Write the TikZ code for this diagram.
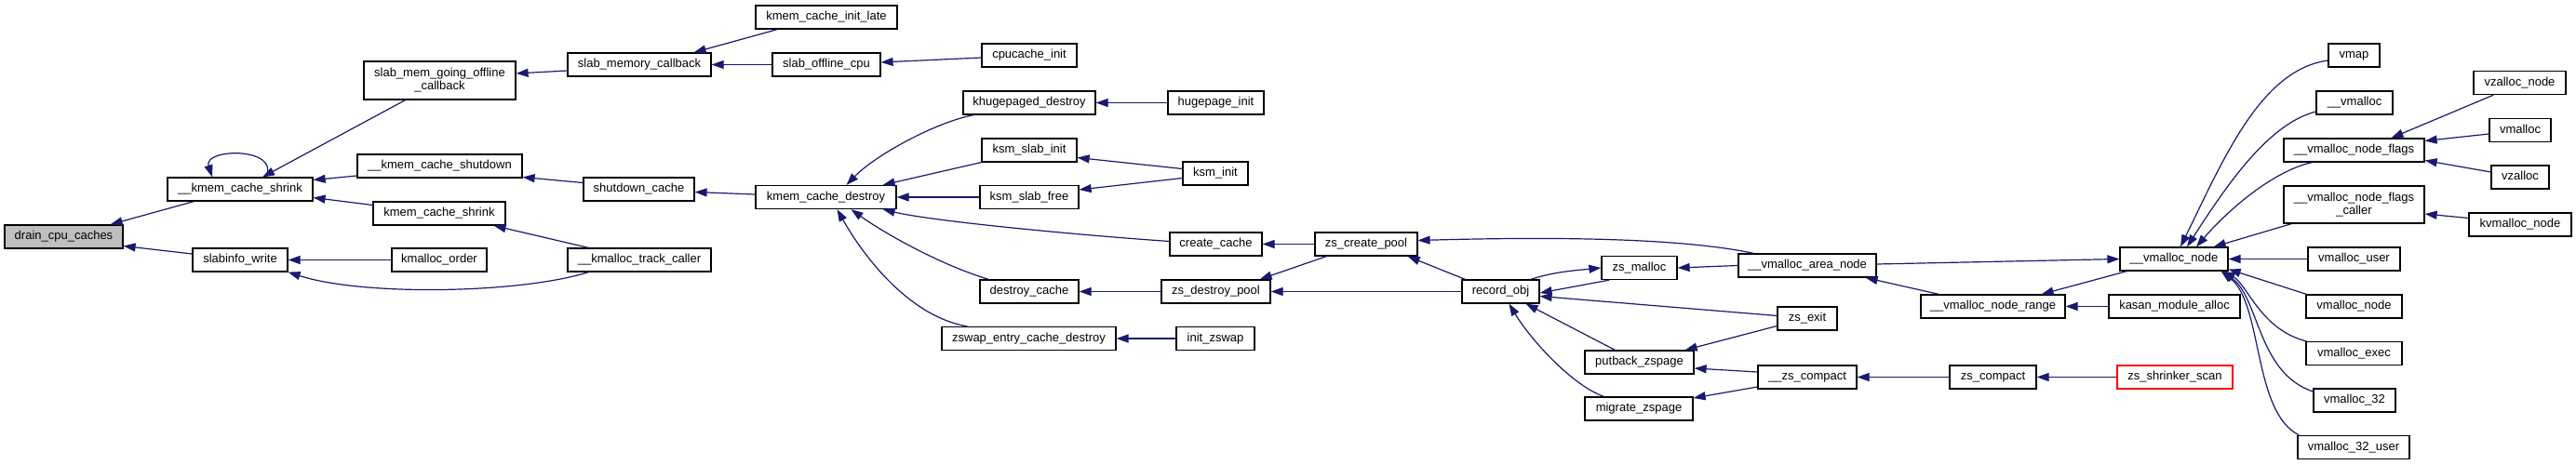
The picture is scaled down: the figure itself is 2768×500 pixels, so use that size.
\documentclass[tikz,border=0pt]{standalone}
\usepackage{fontspec}
\newfontfamily\doxfont{Liberation Sans}
\usetikzlibrary{arrows.meta}
\definecolor{edgeblue}{RGB}{25,25,112}
\definecolor{rootgray}{RGB}{191,191,191}
\begin{document}
\begin{tikzpicture}[x=1pt,y=-1pt,
  boxbase/.style={draw=black, line width=1.2pt, fill=white, inner sep=0pt,
    font=\doxfont\fontsize{13}{14}\selectfont},
  box/.style={boxbase, minimum height=25pt, text height=9.4pt, text depth=2.6pt},
  boxtwo/.style={boxbase, align=center},
  ca/.style={draw=edgeblue, line width=1.2pt, {Triangle[length=13pt,width=9pt]}-}]
\fill[white] (0,0) rectangle (2768,500);
\useasboundingbox (0,0) rectangle (2768,500);

\node[box, fill=rootgray, minimum width=127pt] (drain) at (68.5,254.5) {drain\_cpu\_caches};
\node[box, minimum width=156pt] (kshrink) at (258,203.5) {\_\_kmem\_cache\_shrink};
\node[box, minimum width=102pt] (slabinfo) at (258,279.5) {slabinfo\_write};
\node[boxtwo, minimum width=163pt, minimum height=41pt] (smgoc) at (472.5,86.5) {slab\_mem\_going\_offline\\\_callback};
\node[box, minimum width=177pt] (kshutdown) at (472.5,178.5) {\_\_kmem\_cache\_shutdown};
\node[box, minimum width=142pt] (kcshrink) at (472,229.5) {kmem\_cache\_shrink};
\node[box, minimum width=102pt] (kmorder) at (472,279.5) {kmalloc\_order};
\node[box, minimum width=154pt] (smcb) at (687,69.5) {slab\_memory\_callback};
\node[box, minimum width=119pt] (shutdowncache) at (686.5,203.5) {shutdown\_cache};
\node[box, minimum width=154pt] (ktc) at (687,279.5) {\_\_kmalloc\_track\_caller};
\node[box, minimum width=152pt] (kcil) at (888,18.5) {kmem\_cache\_init\_late};
\node[box, minimum width=116pt] (soc) at (888,69.5) {slab\_offline\_cpu};
\node[box, minimum width=151pt] (kcd) at (887.5,212) {kmem\_cache\_destroy};
\node[box, minimum width=102pt] (cpuinit) at (1106,59.5) {cpucache\_init};
\node[box, minimum width=142pt] (khd) at (1106,110.5) {khugepaged\_destroy};
\node[box, minimum width=102pt] (ksmsi) at (1106,161.5) {ksm\_slab\_init};
\node[box, minimum width=106pt] (ksmsf) at (1106,212) {ksm\_slab\_free};
\node[box, minimum width=106pt] (dcache) at (1106,313.5) {destroy\_cache};
\node[box, minimum width=187pt] (zecd) at (1105.5,364) {zswap\_entry\_cache\_destroy};
\node[box, minimum width=103pt] (hpinit) at (1306.5,110.5) {hugepage\_init};
\node[box, minimum width=70pt] (ksminit) at (1306,186.5) {ksm\_init};
\node[box, minimum width=99pt] (ccache) at (1306.5,262.5) {create\_cache};
\node[box, minimum width=117pt] (zsdp) at (1306.5,313.5) {zs\_destroy\_pool};
\node[box, minimum width=84pt] (initzswap) at (1306,364) {init\_zswap};
\node[box, minimum width=110pt] (zscp) at (1468,262.5) {zs\_create\_pool};
\node[box, minimum width=83pt] (recobj) at (1612.5,313.5) {record\_obj};
\node[box, minimum width=81pt] (zsmalloc) at (1761.5,288) {zs\_malloc};
\node[box, minimum width=117pt] (putback) at (1761.5,389.5) {putback\_zspage};
\node[box, minimum width=116pt] (migrate) at (1761,439.5) {migrate\_zspage};
\node[box, minimum width=148pt] (van) at (1942,285.5) {\_\_vmalloc\_area\_node};
\node[box, minimum width=64pt] (zsexit) at (1942,342.5) {zs\_exit};
\node[box, minimum width=106pt] (zscompactin) at (1942,405.5) {\_\_zs\_compact};
\node[box, minimum width=155pt] (vnr) at (2141.5,329.5) {\_\_vmalloc\_node\_range};
\node[box, minimum width=93pt] (zscompact) at (2141.5,405.5) {zs\_compact};
\node[box, minimum width=116pt] (vn) at (2336,278.5) {\_\_vmalloc\_node};
\node[box, minimum width=141pt] (kasan) at (2336.5,329.5) {kasan\_module\_alloc};
\node[box, draw=red, minimum width=124pt] (zsss) at (2337,405.5) {zs\_shrinker\_scan};
\node[box, minimum width=55pt] (vmap) at (2529.5,59.5) {vmap};
\node[box, minimum width=82pt] (uvmalloc) at (2530,110.5) {\_\_vmalloc};
\node[box, minimum width=151pt] (vnf) at (2529.5,161.5) {\_\_vmalloc\_node\_flags};
\node[boxtwo, minimum width=151pt, minimum height=40pt] (vnfc) at (2529.5,220) {\_\_vmalloc\_node\_flags\\\_caller};
\node[box, minimum width=99pt] (vuser) at (2529.5,278.5) {vmalloc\_user};
\node[box, minimum width=103pt] (vnode) at (2529.5,329.5) {vmalloc\_node};
\node[box, minimum width=103pt] (vexec) at (2529.5,380) {vmalloc\_exec};
\node[box, minimum width=88pt] (v32) at (2530,430.5) {vmalloc\_32};
\node[box, minimum width=120pt] (v32u) at (2529,481) {vmalloc\_32\_user};
\node[box, minimum width=99pt] (vzn) at (2707.5,89) {vzalloc\_node};
\node[box, minimum width=66pt] (vmalloc) at (2708,140) {vmalloc};
\node[box, minimum width=62pt] (vzalloc) at (2708,190.5) {vzalloc};
\node[box, minimum width=110pt] (kvn) at (2708,241.5) {kvmalloc\_node};

% edges (tip at callee)
\draw[ca] ([xshift=-14pt]drain.north east) -- ([xshift=29pt]kshrink.south west);
\draw[ca] ([yshift=-10pt]drain.east) -- ([yshift=6.5pt]slabinfo.west);
\draw[ca] ([xshift=-30pt]kshrink.north) .. controls +(-10,-31) and +(15,-33) .. ([xshift=28pt]kshrink.north);
\draw[ca] ([xshift=24pt]kshrink.north) -- ([xshift=-37pt]smgoc.south);
\draw[ca] ([yshift=10pt]kshrink.east) -- ([yshift=-10.5pt]kshutdown.west);
\draw[ca] ([yshift=-9pt]kshrink.east) -- ([yshift=9pt]kcshrink.west);
\draw[ca] (slabinfo.east) -- (kmorder.west);
\draw[ca] (slabinfo.south east) .. controls +(81,26) and +(-73,23) .. ([xshift=23pt]ktc.south west);
\draw[ca] ([xshift=-13pt]kcshrink.south east) -- ([xshift=23pt]ktc.north west);
\draw[ca] ([yshift=7.5pt]smgoc.east) -- ([yshift=-6.5pt]smcb.west);
\draw[ca] ([yshift=-12pt]kshutdown.east) -- ([yshift=7pt]shutdowncache.west);
\draw[ca] ([xshift=-19pt]smcb.north east) -- ([xshift=24pt]kcil.south west);
\draw[ca] (smcb.east) -- (soc.west);
\draw[ca] ([yshift=2.5pt]soc.east) -- ([yshift=-2.5pt]cpuinit.west);
\draw[ca] ([yshift=-3pt]shutdowncache.east) -- ([yshift=3pt]kcd.west);
\draw[ca] ([xshift=22pt]kcd.north) .. controls +(30.5,-31.5) and +(-42,8) .. ([xshift=12pt]khd.south west);
\draw[ca] (khd.east) -- (hpinit.west);
\draw[ca] ([xshift=-15pt]kcd.north east) -- (ksmsi.south west);
\draw[ca] (kcd.east) -- (ksmsf.west);
\draw[ca] ([yshift=-8pt]ksmsi.east) -- ([yshift=5pt]ksminit.west);
\draw[ca] ([yshift=8pt]ksmsf.east) -- ([yshift=-5pt]ksminit.west);
\draw[ca] ([xshift=-15pt]kcd.south east) .. controls +(52,12.5) and +(-107,-7.5) .. ([yshift=3pt]ccache.west);
\draw[ca] ([xshift=27pt]kcd.south) .. controls +(35.5,25.5) and +(-53,-16) .. ([xshift=10pt]dcache.north west);
\draw[ca] ([xshift=12pt]kcd.south) .. controls +(25.5,45.5) and +(-65,-11) .. ([xshift=28pt]zecd.north west);
\draw[ca] (ccache.east) -- (zscp.west);
\draw[ca] (dcache.east) -- (zsdp.west);
\draw[ca] (zecd.east) -- (initzswap.west);
\draw[ca] ([xshift=-12pt]zsdp.north east) -- ([xshift=13pt]zscp.south west);
\draw[ca] (zsdp.east) -- (recobj.west);
\draw[ca] ([xshift=-11pt]zscp.south east) -- ([xshift=4pt]recobj.north west);
\draw[ca] ([yshift=4pt]zscp.east) .. controls +(127,-3.5) and +(-85,-18) .. ([xshift=17pt]van.north west);
\draw[ca] ([yshift=-1.5pt]recobj.east) -- ([xshift=9pt]zsmalloc.south west);
\draw[ca] (zsmalloc.west) .. controls +(-30,3) and +(25,-8) .. ([xshift=-10pt]recobj.north east);
\draw[ca] ([yshift=-5pt]recobj.east) -- ([yshift=3pt]zsexit.west);
\draw[ca] ([xshift=-15pt]recobj.south east) -- ([xshift=33pt]putback.north west);
\draw[ca] ([xshift=9pt]recobj.south) .. controls +(23.5,39) and +(-34,-12) .. ([xshift=21pt]migrate.north west);
\draw[ca] (zsmalloc.east) -- (van.west);
\draw[ca] ([xshift=-10pt]putback.north east) -- ([yshift=-8pt]zsexit.west);
\draw[ca] ([yshift=-6.5pt]putback.east) -- ([yshift=5.5pt]zscompactin.west);
\draw[ca] ([yshift=11.5pt]migrate.east) -- ([yshift=-10.5pt]zscompactin.west);
\draw[ca] (zscompactin.east) -- (zscompact.west);
\draw[ca] (zscompact.east) -- (zsss.west);
\draw[ca] (vn.west) -- ([yshift=1.5pt]van.east);
\draw[ca] ([xshift=-12pt]van.south east) -- ([xshift=20pt]vnr.north west);
\draw[ca] ([xshift=-26pt]vnr.north east) -- ([xshift=8pt]vn.south west);
\draw[ca] (vnr.east) -- (kasan.west);
\draw[ca] ([xshift=7pt]vn.north) .. controls +(47,-96) and +(-72,10) .. ([yshift=-5.5pt]vmap.west);
\draw[ca] ([xshift=14pt]vn.north) .. controls +(45,-70) and +(-50,13) .. ([yshift=-9.5pt]uvmalloc.west);
\draw[ca] ([xshift=24pt]vn.north) .. controls +(30,-35) and +(-45,10) .. ([xshift=31pt]vnf.south west);
\draw[ca] ([xshift=-16pt]vn.north east) -- ([xshift=9pt]vnfc.south west);
\draw[ca] (vn.east) -- (vuser.west);
\draw[ca] ([yshift=-11pt]vn.east) -- ([xshift=1pt]vnode.north west);
\draw[ca] ([xshift=-6pt]vn.south east) .. controls +(26,14) and +(-49,-12) .. ([xshift=1pt]vexec.north west);
\draw[ca] ([xshift=-7pt]vn.south east) .. controls +(40,28) and +(-60,-20) .. ([yshift=9.5pt]v32.west);
\draw[ca] ([xshift=-8pt]vn.south east) .. controls +(45,35) and +(-50,-25) .. ([xshift=2pt]v32u.north west);
\draw[ca] ([xshift=116pt]vnf.north west) -- ([xshift=22pt]vzn.south west);
\draw[ca] ([yshift=10pt]vnf.east) -- ([yshift=-4pt]vmalloc.west);
\draw[ca] ([yshift=-11pt]vnf.east) -- ([yshift=5.5pt]vzalloc.west);
\draw[ca] ([yshift=-10pt]vnfc.east) -- ([yshift=7pt]kvn.west);
\end{tikzpicture}
\end{document}
